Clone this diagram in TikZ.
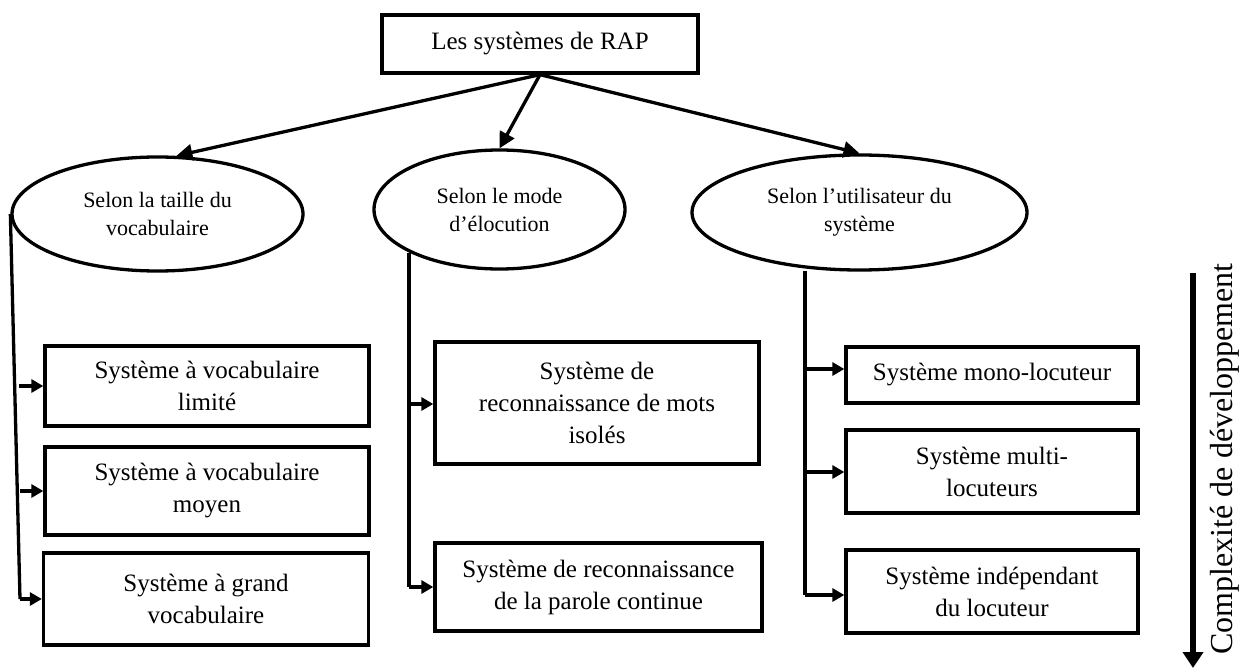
\documentclass[tikz,border=0pt]{standalone}
\usepackage{fontspec}
\setmainfont{Liberation Serif}
\usetikzlibrary{shapes.geometric,arrows.meta}
\tikzset{
  box/.style={draw, line width=3.3pt, rectangle, inner sep=0pt, align=center,
    font=\fontsize{25}{32}\selectfont},
  oval/.style={draw, line width=3.3pt, ellipse, inner sep=0pt, align=center,
    font=\fontsize{22}{28}\selectfont},
  link/.style={line width=3.3pt, -{Triangle[length=16pt,width=16pt]}},
  feed/.style={line width=3.3pt},
  sub/.style={line width=3.3pt, -{Triangle[length=12pt,width=13pt]}},
}
\begin{document}
\begin{tikzpicture}[x=1pt,y=-1pt]
\useasboundingbox (0,0) rectangle (1242,668);

% root
\node[box, minimum width=316pt, minimum height=58pt] (root) at (540,44)
  {Les systèmes de RAP};

% criteria
\node[oval, minimum width=291pt, minimum height=114pt] (taille) at (157.5,214)
  {Selon la taille du\\vocabulaire};
\node[oval, minimum width=251pt, minimum height=119pt] (mode) at (499.5,209.5)
  {Selon le mode\\d’élocution};
\node[oval, minimum width=335pt, minimum height=115pt] (util) at (859.5,212.5)
  {Selon l’utilisateur du\\système};

\draw[link] (root.south) -- (taille.72);
\draw[link] (root.south) -- (mode.north);
\draw[link] (root.south) -- (util.north);

% vocabulary size
\node[box, minimum width=324pt, minimum height=80pt] (v1) at (207,386)
  {Système à vocabulaire\\limité};
\node[box, minimum width=324pt, minimum height=88pt] (v2) at (207,491)
  {Système à vocabulaire\\moyen};
\node[box, minimum width=325pt, minimum height=92pt] (v3) at (206,599)
  {Système à grand\\vocabulaire};

\coordinate (vtop) at (taille.west);
\coordinate (vbot) at (20,599);
\draw[feed] (vtop) -- (vbot);
\draw[sub] (vbot) -- (v3.west);
\draw[sub] (19,386) -- (v1.west);
\draw[sub] (19.5,491) -- (v2.west);

% speaking mode
\node[box, minimum width=324pt, minimum height=122pt] (m1) at (597,403)
  {Système de\\reconnaissance de mots\\isolés};
\node[box, minimum width=327pt, minimum height=88pt] (m2) at (598.5,587)
  {Système de reconnaissance\\de la parole continue};

\coordinate (mtop) at (409,253);
\coordinate (mbot) at (409,587);
\draw[feed] (mtop) -- (mbot);
\draw[sub] (mbot) -- (m2.west);
\draw[sub] (409,404) -- (m1.west |- 0,404);

% system user
\node[box, minimum width=292pt, minimum height=56pt] (u1) at (992,375)
  {Système mono-locuteur};
\node[box, minimum width=292pt, minimum height=83pt] (u2) at (992,471.5)
  {Système multi-\\locuteurs};
\node[box, minimum width=292pt, minimum height=83pt] (u3) at (992,591.5)
  {Système indépendant\\du locuteur};

\coordinate (utop) at (805,271);
\coordinate (ubot) at (805,595);
\draw[feed] (utop) -- (ubot);
\draw[sub] (ubot) -- (u3.west |- ubot);
\draw[sub] (805,369) -- (u1.west |- 0,369);
\draw[sub] (805,472) -- (u2.west |- 0,472);

% complexity axis
\coordinate (ctop) at (1193,273);
\coordinate (cbot) at (1193,668);
\draw[line width=5.5pt, -{Triangle[length=16pt,width=20pt]}] (ctop) -- (cbot);
\node[rotate=90, font=\fontsize{32}{36}\selectfont, inner sep=0pt] (clabel) at (1225,459)
  {Complexité de développement};
\end{tikzpicture}
\end{document}
